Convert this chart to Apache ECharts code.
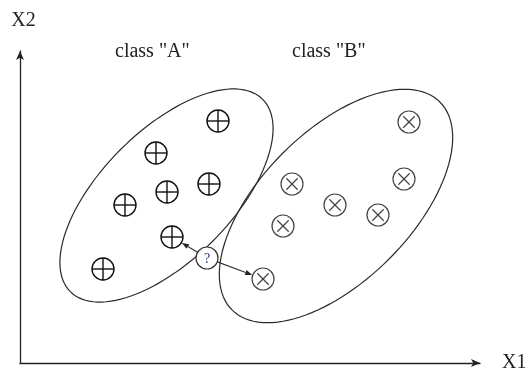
<!DOCTYPE html>
<html>
<head>
<meta charset="utf-8">
<script src="https://cdn.jsdelivr.net/npm/echarts@6/dist/echarts.min.js"></script>
<style>
  html, body { margin: 0; padding: 0; background: #fff; }
  #chart { width: 530px; height: 376px; }
</style>
</head>
<body>
<div id="chart"></div>
<script>
// points, in axis units (X1 right, X2 up)
const classA = [[198, 242], [136, 210], [189, 179], [147, 171], [105, 158], [152, 126], [83, 94]];
const classB = [[389, 241], [272, 179], [384, 184], [315, 158], [358, 148], [263, 137], [243, 84]];
const query = [187, 105];
const nearest = [[152, 126], [243, 84]];
// class regions: centre x, centre y, semi major, semi minor, angle (deg)
const regions = [[146.5, 167.5, 136, 65, 45], [316, 157, 147, 75, 45]];
const classNames = ['class "A"', 'class "B"'];
const axisNames = ['X1', 'X2'];

const serif = '"Liberation Serif", "DejaVu Serif", serif';
const R = 11;

function ellipseItem(params, api) {
  const cx = api.value(0), cy = api.value(1), a = api.value(2), b = api.value(3);
  const th = api.value(4) * Math.PI / 180;
  const pts = [];
  for (let i = 0; i < 120; i++) {
    const t = i / 120 * Math.PI * 2;
    const x = cx + a * Math.cos(t) * Math.cos(th) - b * Math.sin(t) * Math.sin(th);
    const y = cy + a * Math.cos(t) * Math.sin(th) + b * Math.sin(t) * Math.cos(th);
    pts.push(api.coord([x, y]));
  }
  return {
    type: 'polygon',
    shape: {points: pts},
    style: {fill: 'none', stroke: '#2a2a2a', lineWidth: 1.2}
  };
}

function markerItem(plus) {
  return function (params, api) {
    const p = api.coord([api.value(0), api.value(1)]);
    const col = plus ? '#111' : '#444';
    const lw = plus ? 1.4 : 1.2;
    const children = [{
      type: 'circle',
      shape: {cx: p[0], cy: p[1], r: R},
      style: {fill: '#fff', stroke: col, lineWidth: lw}
    }];
    if (plus) {
      children.push({type: 'line', shape: {x1: p[0] - R, y1: p[1], x2: p[0] + R, y2: p[1]}, style: {stroke: col, lineWidth: lw}});
      children.push({type: 'line', shape: {x1: p[0], y1: p[1] - R, x2: p[0], y2: p[1] + R}, style: {stroke: col, lineWidth: lw}});
    } else {
      const d = R * 0.52;
      children.push({type: 'line', shape: {x1: p[0] - d, y1: p[1] - d, x2: p[0] + d, y2: p[1] + d}, style: {stroke: col, lineWidth: lw}});
      children.push({type: 'line', shape: {x1: p[0] - d, y1: p[1] + d, x2: p[0] + d, y2: p[1] - d}, style: {stroke: col, lineWidth: lw}});
    }
    return {type: 'group', children: children};
  };
}

function queryItem(params, api) {
  const p = api.coord([api.value(0), api.value(1)]);
  return {
    type: 'group',
    children: [
      {type: 'circle', shape: {cx: p[0], cy: p[1], r: R}, style: {fill: '#fff', stroke: '#333', lineWidth: 1.2}},
      {type: 'text', style: {x: p[0], y: p[1] + 1, text: '?', align: 'center', verticalAlign: 'middle', font: '14px ' + serif, fill: '#2b3f7a'}}
    ]
  };
}

function arrowItem(params, api) {
  const p0 = api.coord(query);
  const p1 = api.coord([api.value(0), api.value(1)]);
  const dx = p1[0] - p0[0], dy = p1[1] - p0[1];
  const len = Math.sqrt(dx * dx + dy * dy);
  const ux = dx / len, uy = dy / len;
  const s = [p0[0] + ux * R, p0[1] + uy * R];
  const e = [p1[0] - ux * (R + 0.5), p1[1] - uy * (R + 0.5)];
  const hl = 7, hw = 2.6;
  const bx = e[0] - ux * hl, by = e[1] - uy * hl;
  return {
    type: 'group',
    children: [
      {type: 'line', shape: {x1: s[0], y1: s[1], x2: bx, y2: by}, style: {stroke: '#333', lineWidth: 1.1}},
      {type: 'polygon', shape: {points: [e, [bx - uy * hw, by + ux * hw], [bx + uy * hw, by - ux * hw]]}, style: {fill: '#222'}}
    ]
  };
}

const chart = echarts.init(document.getElementById('chart'));
chart.setOption({
  animation: false,
  grid: {left: 20, right: 50, top: 51, bottom: 13},
  xAxis: {
    type: 'value', min: 0, max: 460,
    name: axisNames[0], nameLocation: 'end', nameGap: 22,
    nameTextStyle: {fontFamily: serif, fontSize: 20, color: '#222', padding: [10, 0, 0, 0]},
    axisLine: {show: true, onZero: false, symbol: ['none', 'arrow'], symbolSize: [6, 9], lineStyle: {color: '#222', width: 1.3}},
    axisTick: {show: false}, axisLabel: {show: false}, splitLine: {show: false}
  },
  yAxis: {
    type: 'value', min: 0, max: 312,
    name: axisNames[1], nameLocation: 'end', nameGap: 20,
    nameTextStyle: {fontFamily: serif, fontSize: 20, color: '#222', padding: [0, 0, 0, 7]},
    axisLine: {show: true, onZero: false, symbol: ['none', 'arrow'], symbolSize: [6, 9], lineStyle: {color: '#222', width: 1.3}},
    axisTick: {show: false}, axisLabel: {show: false}, splitLine: {show: false}
  },
  graphic: [
    {type: 'text', left: 115, top: 42, style: {text: classNames[0], font: '20px ' + serif, fill: '#222'}},
    {type: 'text', left: 292, top: 42, style: {text: classNames[1], font: '20px ' + serif, fill: '#222'}}
  ],
  series: [
    {type: 'custom', coordinateSystem: 'cartesian2d', renderItem: ellipseItem, data: regions, silent: true, z: 1},
    {type: 'custom', coordinateSystem: 'cartesian2d', renderItem: arrowItem, data: nearest, silent: true, z: 2},
    {type: 'custom', coordinateSystem: 'cartesian2d', renderItem: markerItem(true), data: classA, z: 3},
    {type: 'custom', coordinateSystem: 'cartesian2d', renderItem: markerItem(false), data: classB, z: 3},
    {type: 'custom', coordinateSystem: 'cartesian2d', renderItem: queryItem, data: [query], z: 3}
  ]
});
</script>
</body>
</html>
